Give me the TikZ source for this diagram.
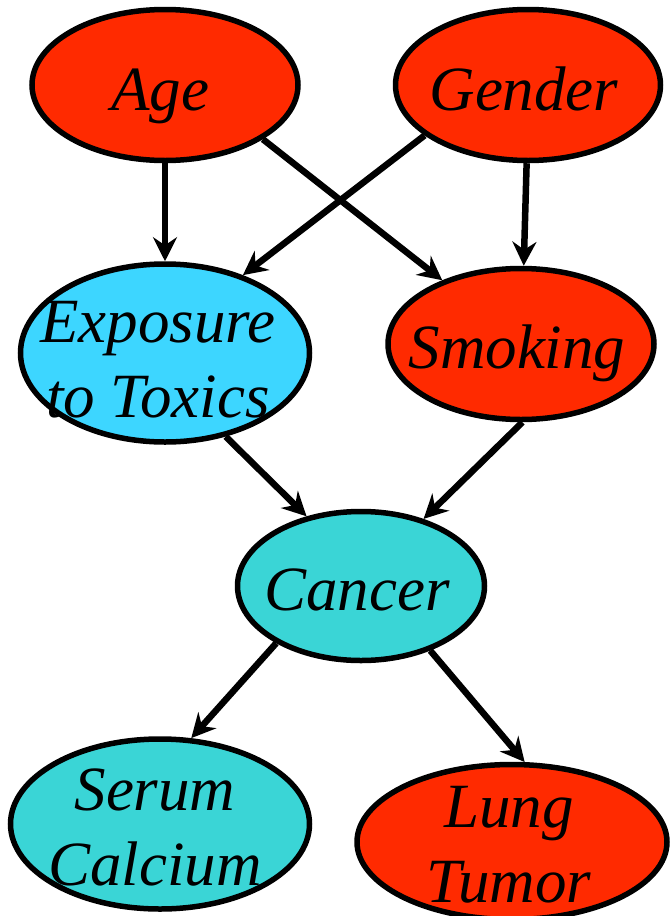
\documentclass[tikz,border=0pt]{standalone}
\usepackage{fontspec}
\setmainfont{Liberation Serif}
\usetikzlibrary{shapes.geometric,arrows.meta}
\definecolor{nred}{HTML}{FF2A00}
\definecolor{ncyan}{HTML}{3DD6FF}
\definecolor{nteal}{HTML}{3AD5D6}
\begin{document}
\begin{tikzpicture}[x=1pt,y=-1pt,
  bn/.style={ellipse, draw=black, line width=5.5pt, inner sep=0pt},
  lbl/.style={font=\fontsize{63}{75}\selectfont\itshape, anchor=base, inner sep=0pt, align=center},
  edge/.style={line width=6.5pt, -{Stealth[length=24pt,width=24pt,inset=8pt]}}]
\useasboundingbox (0,0) rectangle (671,916);
% nodes
\node[bn, fill=nred,  minimum width=266pt, minimum height=151pt] (age) at (165,85) {};
\node[bn, fill=nred,  minimum width=265pt, minimum height=151pt] (gender) at (528,85) {};
\node[bn, fill=ncyan, minimum width=289pt, minimum height=178pt] (exposure) at (165,353) {};
\node[bn, fill=nred,  minimum width=266pt, minimum height=151pt] (smoking) at (521,344) {};
\node[bn, fill=nteal, minimum width=247pt, minimum height=149pt] (cancer) at (361,586) {};
\node[bn, fill=nteal, minimum width=299pt, minimum height=170pt] (serum) at (160,824) {};
\node[bn, fill=nred,  minimum width=310pt, minimum height=155pt] (lung) at (512,842) {};
% labels (multi-line labels are anchored at the baseline of their last line)
\node[lbl] (agetxt) at (160,110) {Age};
\node[lbl] (gendertxt) at (524,110) {Gender};
\node[lbl] (exposuretxt) at (158,417) {Exposure\\to Toxics};
\node[lbl] (smokingtxt) at (517,368) {Smoking};
\node[lbl] (cancertxt) at (357,610) {Cancer};
\node[lbl] (serumtxt) at (155,885) {Serum\\Calcium};
\node[lbl] (lungtxt) at (509,902) {Lung\\Tumor};
% edges
\draw[edge] (age.south) -- (exposure.north);
\draw[edge] (age.-29) -- (smoking.141.5);
\draw[edge] (gender.206) -- (exposure.45);
\draw[edge] (gender.-91) -- (smoking.88);
\draw[edge] (exposure.-54) -- (cancer.128.5);
\draw[edge] (smoking.-89) -- (cancer.47.8);
\draw[edge] (cancer.214.5) -- (serum.70);
\draw[edge] (cancer.-43.8) -- (lung.81);
\end{tikzpicture}
\end{document}
